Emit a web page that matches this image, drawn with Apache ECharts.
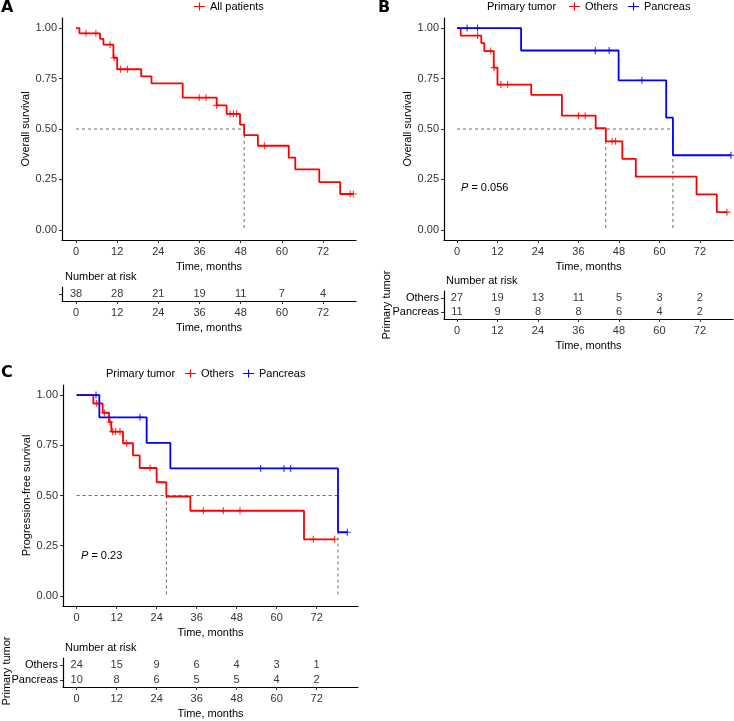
<!DOCTYPE html>
<html><head><meta charset="utf-8">
<script src="https://cdn.jsdelivr.net/npm/echarts@6.0.0/dist/echarts.min.js"></script>
<style>html,body{margin:0;padding:0;background:#fff}#c{width:734px;height:721px}</style>
</head><body><div id="c"></div>
<script>
// ---- tick labels ----
const timeTicks = [0, 12, 24, 36, 48, 60, 72];
const survTicks = [0, 0.25, 0.5, 0.75, 1];
const riskTimes = [0, 12, 24, 36, 48, 60, 72];

// ---- Panel A: all patients (overall survival) ----
const aTimes = [0, 1, 7, 8, 10.9, 12, 19, 22, 31.1, 41, 43.9, 47.8, 49, 53, 62, 63.9, 70.9, 77, 80.8];
const aSurv  = [1, 0.974, 0.947, 0.918, 0.853, 0.796, 0.761, 0.726, 0.655, 0.617, 0.575, 0.522, 0.47, 0.417, 0.358, 0.3, 0.237, 0.178, 0.178];
const aCensor = [2.9, 5.8, 9.9, 11.1, 13, 15, 35.9, 37.9, 41, 44.9, 45.9, 46.8, 54.9, 79.9, 80.8];
const aMedian = [49];
const riskA = [38, 28, 21, 19, 11, 7, 4];

// ---- Panel B: overall survival by primary tumor ----
const bOthTimes = [0, 1.1, 7.2, 8.1, 10.9, 12, 22, 31.1, 41.1, 44.1, 49, 53, 71, 77, 80];
const bOthSurv  = [1, 0.963, 0.926, 0.886, 0.804, 0.72, 0.669, 0.566, 0.504, 0.439, 0.352, 0.264, 0.176, 0.088, 0.088];
const bOthCensor = [6.1, 10, 11, 13, 15, 36, 38, 46, 47, 80];
const bPanTimes = [0, 19, 47.9, 62, 64, 81.2];
const bPanSurv  = [1, 0.889, 0.741, 0.556, 0.37, 0.37];
const bPanCensor = [3, 6.1, 41, 45.1, 54.8, 81.2];
const bMedian = [44.1, 64];
const riskBOthers = [27, 19, 13, 11, 5, 3, 2];
const riskBPancreas = [11, 9, 8, 8, 6, 4, 2];

// ---- Panel C: progression-free survival by primary tumor ----
const cOthTimes = [0, 5, 7.8, 9.7, 10.4, 13.9, 16.9, 18.9, 24, 26.9, 34.1, 68.2, 77.4];
const cOthSurv  = [1, 0.958, 0.912, 0.866, 0.818, 0.76, 0.70, 0.637, 0.566, 0.495, 0.424, 0.282, 0.282];
const cOthCensor = [6, 8.3, 10, 10.8, 11.7, 13, 15, 22, 38, 44, 49, 71, 77.4];
const cPanTimes = [0, 6.8, 21, 28.1, 78.4, 81.2];
const cPanSurv  = [1, 0.889, 0.762, 0.635, 0.317, 0.317];
const cPanCensor = [5.8, 19, 55.2, 62.2, 64.2, 81.2];
const cMedian = [26.9, 78.4];
const riskCOthers = [24, 15, 9, 6, 4, 3, 1];
const riskCPancreas = [10, 8, 6, 5, 5, 4, 2];

// ---- styling ----
const FONT = 'Liberation Sans';
const RED = '#FF0000', BLUE = '#0000FF';
const cross = 'path://M0,4.2H10V5.8H0Z M4.2,0H5.8V10H4.2Z';
const legIcon = 'path://M0,4.3H14V5.7H0Z M6.3,0H7.7V10H6.3Z';

function pairs(t, s) { return t.map((x, i) => [x, s[i]]); }
function stepAt(t, s, x) { let v = s[0]; for (let i = 0; i < t.length; i++) if (t[i] <= x) v = s[i]; return v; }

function xAx(gi, min, max) {
  return {type: 'value', gridIndex: gi, min: min, max: max,
    axisLine: {show: true, onZero: false, lineStyle: {color: '#000', width: 1.2}},
    axisTick: {show: true, customValues: timeTicks, length: 3, lineStyle: {color: '#333'}},
    axisLabel: {customValues: timeTicks, margin: 6, fontSize: 11, color: '#333', fontFamily: FONT},
    splitLine: {show: false},
    name: 'Time, months', nameLocation: 'middle', nameGap: 21,
    nameTextStyle: {fontSize: 11, color: '#000', fontFamily: FONT}};
}
function yAx(gi, name) {
  return {type: 'value', gridIndex: gi, min: -0.05, max: 1.05,
    axisLine: {show: true, onZero: false, lineStyle: {color: '#000', width: 1.2}},
    axisTick: {show: true, customValues: survTicks, length: 3, lineStyle: {color: '#333'}},
    axisLabel: {customValues: survTicks, formatter: v => v.toFixed(2), margin: 5, fontSize: 11, color: '#333', fontFamily: FONT},
    splitLine: {show: false},
    name: name, nameLocation: 'middle', nameGap: 30,
    nameTextStyle: {fontSize: 11, color: '#000', fontFamily: FONT}};
}
function yRisk(gi, cats) {
  return {type: 'category', gridIndex: gi, data: cats, inverse: true,
    axisLine: {show: true, onZero: false, lineStyle: {color: '#000', width: 1.2}},
    axisTick: {show: true, alignWithLabel: true, interval: 0, length: 3, lineStyle: {color: '#333'}},
    axisLabel: {interval: 0, margin: 5, fontSize: 11, color: '#000', fontFamily: FONT},
    splitLine: {show: false}};
}
function km(name, gi, t, s, color) {
  return {type: 'line', name: name, xAxisIndex: gi, yAxisIndex: gi, step: 'end', data: pairs(t, s),
    symbol: 'none', color: color, itemStyle: {color: color}, lineStyle: {color: color, width: 1.8}, silent: true, z: 3};
}
function cens(gi, t, s, c, color) {
  return {type: 'scatter', name: 'censor', xAxisIndex: gi, yAxisIndex: gi, symbol: cross, symbolSize: 7,
    data: c.map(x => [x, stepAt(t, s, x)]), itemStyle: {color: color}, silent: true, z: 4};
}
function med(gi, meds) {
  const mx = Math.max.apply(null, meds);
  const out = [{type: 'line', xAxisIndex: gi, yAxisIndex: gi, data: [[0, 0.5], [mx, 0.5]], symbol: 'none',
    lineStyle: {color: '#444', width: 0.8, type: [3, 3]}, silent: true, z: 2}];
  meds.forEach(m => out.push({type: 'line', xAxisIndex: gi, yAxisIndex: gi, data: [[m, 0.5], [m, 0]], symbol: 'none',
    lineStyle: {color: '#444', width: 0.8, type: [3, 3]}, silent: true, z: 2}));
  return out;
}
function risk(gi, cat, vals) {
  return {type: 'scatter', xAxisIndex: gi, yAxisIndex: gi, symbolSize: 0.1, itemStyle: {color: 'rgba(0,0,0,0)'},
    data: riskTimes.map((x, i) => [x, cat, vals[i]]),
    label: {show: true, position: 'inside', formatter: p => String(p.data[2]), fontSize: 11, color: '#000', fontFamily: FONT},
    silent: true};
}
function txt(x, y, text, extra) {
  return {type: 'text', x: x, y: y, style: Object.assign({text: text, fill: '#000', fontSize: 11, fontFamily: FONT, verticalAlign: 'middle'}, extra || {})};
}
const legText = {fontSize: 11, color: '#000', fontFamily: FONT};
const legGroups = [
  {name: 'Others', itemStyle: {color: RED}},
  {name: 'Pancreas', itemStyle: {color: BLUE}}
];

const option = {
  animation: false,
  backgroundColor: '#fff',
  grid: [
    {left: 62, top: 18, width: 294, height: 222},
    {left: 444, top: 18, width: 289, height: 222},
    {left: 63, top: 385, width: 295, height: 221},
    {left: 62, top: 287, width: 294, height: 14},
    {left: 444, top: 291, width: 289, height: 28},
    {left: 63, top: 658, width: 295, height: 29}
  ],
  xAxis: [xAx(0, -4.08, 81.6), xAx(1, -3.85, 81.8), xAx(2, -4.1, 84.4),
          xAx(3, -4.08, 81.6), xAx(4, -3.85, 81.8), xAx(5, -4.1, 84.4)],
  yAxis: [yAx(0, 'Overall survival'), yAx(1, 'Overall survival'), yAx(2, 'Progression-free survival'),
          yRisk(3, ['']), yRisk(4, ['Others', 'Pancreas']), yRisk(5, ['Others', 'Pancreas'])],
  legend: [
    {data: [{name: 'All patients', itemStyle: {color: RED}}], left: 194, top: 1, padding: 0, icon: legIcon, itemWidth: 11, itemHeight: 9, itemGap: 10, textStyle: legText},
    {data: legGroups, left: 569, top: 1, padding: 0, icon: legIcon, itemWidth: 11, itemHeight: 9, itemGap: 10, textStyle: legText},
    {data: legGroups, left: 185, top: 368, padding: 0, icon: legIcon, itemWidth: 11, itemHeight: 9, itemGap: 9, textStyle: legText}
  ],
  series: [].concat(
    med(0, aMedian), med(1, bMedian), med(2, cMedian),
    [km('All patients', 0, aTimes, aSurv, RED), cens(0, aTimes, aSurv, aCensor, RED),
     km('Others', 1, bOthTimes, bOthSurv, RED), cens(1, bOthTimes, bOthSurv, bOthCensor, RED),
     km('Pancreas', 1, bPanTimes, bPanSurv, BLUE), cens(1, bPanTimes, bPanSurv, bPanCensor, BLUE),
     km('Others', 2, cOthTimes, cOthSurv, RED), cens(2, cOthTimes, cOthSurv, cOthCensor, RED),
     km('Pancreas', 2, cPanTimes, cPanSurv, BLUE), cens(2, cPanTimes, cPanSurv, cPanCensor, BLUE),
     risk(3, '', riskA),
     risk(4, 'Others', riskBOthers), risk(4, 'Pancreas', riskBPancreas),
     risk(5, 'Others', riskCOthers), risk(5, 'Pancreas', riskCPancreas)]
  ),
  graphic: [
    txt(1, 8, 'A', {fontSize: 16, fontWeight: 'bold', fontFamily: 'DejaVu Sans'}),
    txt(378, 8, 'B', {fontSize: 16, fontWeight: 'bold', fontFamily: 'DejaVu Sans'}),
    txt(1, 373, 'C', {fontSize: 16, fontWeight: 'bold', fontFamily: 'DejaVu Sans'}),
    txt(487, 7, 'Primary tumor'),
    txt(106, 374, 'Primary tumor'),
    txt(65, 277, 'Number at risk'),
    txt(446, 281, 'Number at risk'),
    txt(65, 648, 'Number at risk'),
    {type: 'text', x: 387, y: 305, rotation: Math.PI / 2,
     style: {text: 'Primary tumor', fill: '#000', fontSize: 11, fontFamily: FONT, align: 'center', verticalAlign: 'middle'}},
    {type: 'text', x: 7, y: 671, rotation: Math.PI / 2,
     style: {text: 'Primary tumor', fill: '#000', fontSize: 11, fontFamily: FONT, align: 'center', verticalAlign: 'middle'}},
    txt(461, 188, '{i|P} = 0.056', {rich: {i: {fontStyle: 'italic', fontSize: 11, fontFamily: FONT, fill: '#000'}}}),
    txt(81, 556, '{i|P} = 0.23', {rich: {i: {fontStyle: 'italic', fontSize: 11, fontFamily: FONT, fill: '#000'}}})
  ]
};
const chart = echarts.init(document.getElementById('c'), null, {renderer: 'canvas'});
chart.setOption(option);
</script></body></html>
